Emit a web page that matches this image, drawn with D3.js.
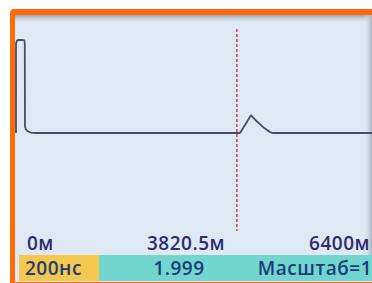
<!DOCTYPE html>
<html>
<head>
<meta charset="utf-8">
<script src="https://cdn.jsdelivr.net/npm/d3@7"></script>
<style>
  html, body { margin: 0; padding: 0; background: #fff; }
  svg { display: block; }
</style>
</head>
<body>
<div id="chart"></div>
<script>
'use strict';

// trace: distance in metres, level in arbitrary units
var traceDist  = [0, 0, 15, 40, 120, 145, 152, 155, 170, 200, 250, 346, 3875, 4065, 4140, 4220, 4300, 4393, 4440, 6400];
var traceLevel = [0, 9.6, 9.95, 10, 10, 9.95, 9.6, 0.7, 0.4, 0.2, 0.05, 0, 0, 1.9, 1.4, 0.95, 0.5, 0.1, 0, 0];

var markerDist = 3820.5;
var distLabels = ['0м', '3820.5м', '6400м'];
var statusLabels = ['200нс', '1.999', 'Масштаб=1'];

var w = 372, h = 283;

var svg = d3.select('#chart').append('svg')
  .attr('width', w)
  .attr('height', h);

var defs = svg.append('defs');

var topShadow = defs.append('linearGradient')
  .attr('id', 'topShadow')
  .attr('x1', 0).attr('y1', 0).attr('x2', 0).attr('y2', 1);
topShadow.append('stop').attr('offset', '0%').attr('stop-color', '#9aa4b2');
topShadow.append('stop').attr('offset', '100%').attr('stop-color', '#dfe9f4').attr('stop-opacity', 0);

var rightShadow = defs.append('linearGradient')
  .attr('id', 'rightShadow')
  .attr('x1', 0).attr('y1', 0).attr('x2', 1).attr('y2', 0);
rightShadow.append('stop').attr('offset', '0%').attr('stop-color', '#dfe9f4').attr('stop-opacity', 0);
rightShadow.append('stop').attr('offset', '100%').attr('stop-color', '#a8b2bf');

/* Orange frame */

svg.append('rect')
  .attr('x', 10)
  .attr('y', 9)
  .attr('width', 420)
  .attr('height', 300)
  .attr('rx', 4)
  .style('fill', '#ff6a0a');

/* Screen panel */

svg.append('rect')
  .attr('x', 15)
  .attr('y', 15)
  .attr('width', 400)
  .attr('height', 267)
  .style('fill', '#dfe9f4');

svg.append('rect')
  .attr('x', 15)
  .attr('y', 15)
  .attr('width', 400)
  .attr('height', 9)
  .style('fill', 'url(#topShadow)');

svg.append('rect')
  .attr('x', 364)
  .attr('y', 15)
  .attr('width', 8)
  .attr('height', 240)
  .style('fill', 'url(#rightShadow)');

/* Scales */

var x = d3.scaleLinear().domain([0, 6400]).range([16, 386]);
var y = d3.scaleLinear().domain([0, 10]).range([133, 40]);

/* Trace */

var trace = d3.zip(traceDist, traceLevel);

var line = d3.line()
  .x(function (d) { return x(d[0]); })
  .y(function (d) { return y(d[1]); });

svg.append('path')
  .datum(trace)
  .attr('d', line)
  .style('fill', 'none')
  .style('stroke', '#484c6a')
  .style('stroke-width', 1.8)
  .style('stroke-linejoin', 'round');

/* Marker */

svg.append('line')
  .attr('x1', x(markerDist))
  .attr('x2', x(markerDist))
  .attr('y1', 29)
  .attr('y2', 231)
  .style('stroke', '#d8213a')
  .style('stroke-width', 1.3)
  .style('stroke-dasharray', '3,2');

/* Distance labels */

var labelFont = '"Open Sans", sans-serif';

svg.selectAll('text.dist')
  .data(distLabels)
  .enter()
  .append('text')
  .attr('class', 'dist')
  .text(function (d) { return d; })
  .attr('x', function (d, i) { return [27, 186, 370][i]; })
  .attr('y', 250)
  .attr('text-anchor', function (d, i) { return ['start', 'middle', 'end'][i]; })
  .style('font-family', labelFont)
  .style('font-weight', 600)
  .style('font-size', '19px')
  .style('letter-spacing', '0.5px')
  .style('fill', '#302c6c');

/* Status bar */

svg.append('rect')
  .attr('x', 19)
  .attr('y', 255)
  .attr('width', 80)
  .attr('height', 26)
  .style('fill', '#f4c84e');

svg.append('rect')
  .attr('x', 99)
  .attr('y', 255)
  .attr('width', 300)
  .attr('height', 26)
  .style('fill', '#72d6d0');

svg.selectAll('text.status')
  .data(statusLabels)
  .enter()
  .append('text')
  .attr('class', 'status')
  .text(function (d) { return d; })
  .attr('x', function (d, i) { return [25, 179, 372][i]; })
  .attr('y', 275)
  .attr('text-anchor', function (d, i) { return ['start', 'middle', 'end'][i]; })
  .style('font-family', labelFont)
  .style('font-weight', 600)
  .style('font-size', '19px')
  .style('letter-spacing', '0.5px')
  .style('fill', '#1e3a78');
</script>
</body>
</html>
